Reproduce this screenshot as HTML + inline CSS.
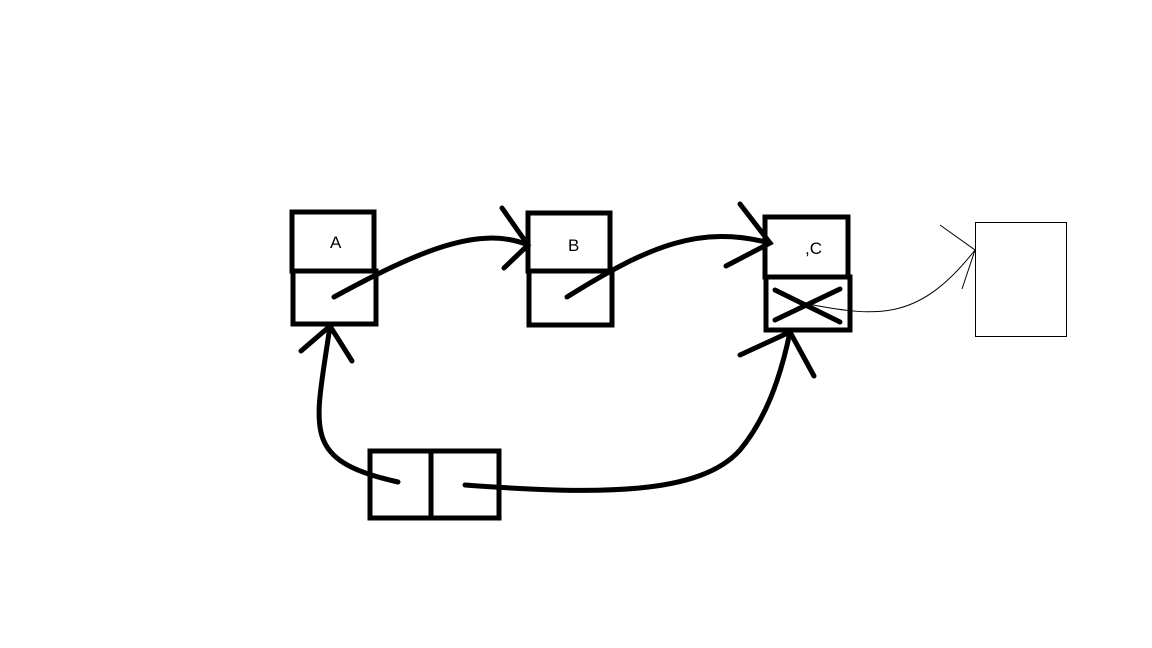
<!DOCTYPE html>
<html><head><style>html,body{margin:0;background:#fff;width:1152px;height:648px;overflow:hidden}</style></head>
<body>
<svg width="1152" height="648" xmlns="http://www.w3.org/2000/svg" font-family="Liberation Sans, sans-serif">
<g fill="none" stroke="#000" stroke-width="5">
<rect x="292" y="212" width="82" height="59"/>
<rect x="293" y="271" width="83" height="53"/>
<rect x="528" y="213" width="82" height="58"/>
<rect x="529" y="271" width="83" height="54"/>
<rect x="765" y="217" width="83" height="60"/>
<rect x="766" y="277" width="84" height="53"/>
<rect x="370" y="451" width="61" height="67"/>
<rect x="431" y="451" width="68" height="67"/>
</g>
<g fill="none" stroke="#000" stroke-width="5" stroke-linecap="round">
<path d="M334 297 C 420 250, 480 225, 528 245"/>
<path d="M502 208 L528 245 L504 268"/>
<path d="M567 297 C 650 245, 700 225, 770 243"/>
<path d="M740 204 L770 243 L726 266"/>
<path d="M398 482 C 300 460, 315 430, 330 326"/>
<path d="M301 351 L330 326 L352 361"/>
<path d="M465 485 C 600 495, 700 495, 740 450 C 765 420, 780 380, 790 332"/>
<path d="M740 355 L790 332 L814 376"/>
<path d="M775 290 L840 322 M775 320 L840 289"/>
</g>
<g fill="none" stroke="#000" stroke-width="1">
<rect x="975.5" y="222.5" width="91" height="114"/>
<path d="M808 304 C 880 318, 920 320, 975 250"/>
<path d="M940 225 L975 250 L962 289"/>
</g>
<g font-size="17" fill="#000">
<text x="330" y="248">A</text>
<text x="568" y="251">B</text>
<text x="805" y="254">,C</text>
</g>
</svg>
</body></html>
